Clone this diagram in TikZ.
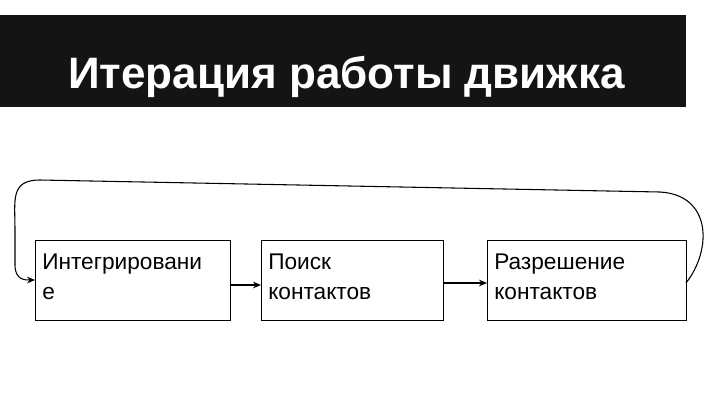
\documentclass[tikz,border=0pt]{standalone}
\usepackage{fontspec}
\setmainfont{Liberation Sans}
\usetikzlibrary{arrows.meta}
\begin{document}
\begin{tikzpicture}[x=0.75pt,y=-0.75pt,
  blk/.style={draw,line width=0.8pt,minimum width=#1*0.75pt,minimum height=60pt,anchor=north west,inner sep=0pt},
  lbl/.style={anchor=north west,font=\fontsize{17}{22.5}\selectfont,align=left,inner sep=0pt},
  arr/.style={-{Stealth[length=6pt,width=5pt]},line width=0.8pt}]
\useasboundingbox (0,0) rectangle (720,405);
\fill[black!92] (0,15) rectangle (686,107);
\node[anchor=base west,text=white,font=\fontsize{33}{40}\selectfont\bfseries,inner sep=0pt] (title) at (68,88) {Итерация работы движка};
\node[blk=195] (b1) at (35,240) {};
\node[blk=182] (b2) at (261,240) {};
\node[blk=199] (b3) at (487,240) {};
\node[lbl] (t1) at (42,254) {Интегрировани\\е};
\node[lbl] (t2) at (268,254) {Поиск\\контактов};
\node[lbl] (t3) at (494,254) {Разрешение\\контактов};
\draw[arr] (b1.east |- 0,285) -- (b2.west |- 0,285);
\draw[arr] (b2.east |- 0,283) -- (b3.west |- 0,283);
\coordinate (s) at (686,283);
\coordinate (e) at (35,280);
\draw[arr] (s) .. controls (712,250) and (712,195) .. (660,192)
  -- (40,180) .. controls (10,180) and (15,200) .. (15,230)
  -- (15,265) .. controls (15,280) and (25,280) .. (e);
\end{tikzpicture}
\end{document}
